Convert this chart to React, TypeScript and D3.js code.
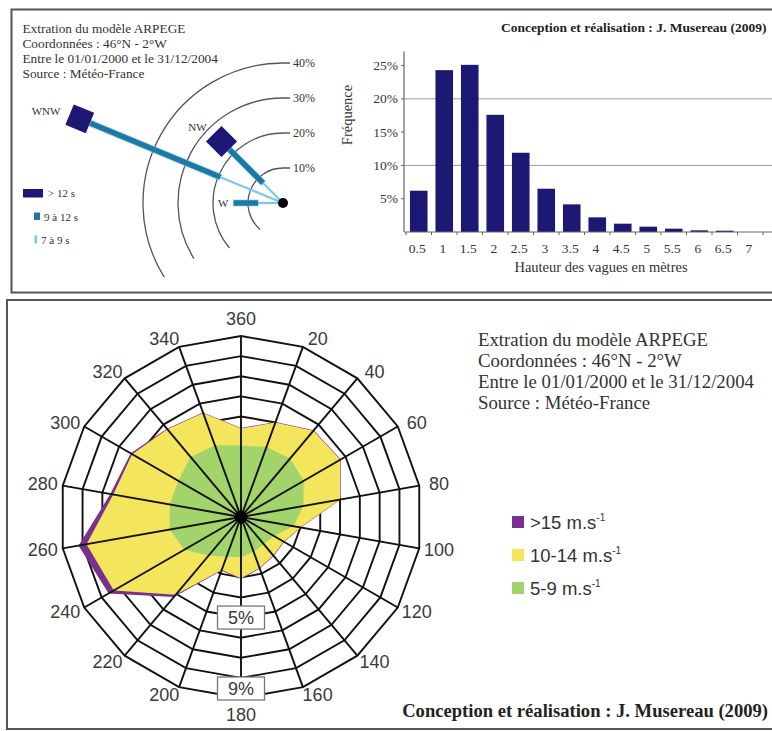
import React from 'react';
import * as d3 from 'd3';

// Fonts
const serif = '"Liberation Serif", "Times New Roman", serif';
const sans = '"Liberation Sans", Arial, sans-serif';

// --- top left: swell rose (directions and period classes, in %)
const houleDirections = ['WNW', 'NW', 'W'];
const houleAngles = [292.5, 315, 270];
const houle7a9 = [19.3, 8, 7.1];
const houle9a12 = [40.4, 13.7, 7.1];
const houlePlus12 = [6.3, 6.3, 0];
const houleCercles = [10, 20, 30, 40];
const houleFinArc = [221, 230, 238, 238]; // where each ring arc stops (compass deg)

// --- top right: wave height histogram
const hauteurs = ['0.5', '1', '1.5', '2', '2.5', '3', '3.5', '4', '4.5', '5', '5.5', '6', '6.5', '7'];
const frequences = [6.2, 24.3, 25.1, 17.6, 11.9, 6.5, 4.15, 2.2, 1.25, 0.8, 0.5, 0.25, 0.2, 0];
const freqTicks = [5, 10, 15, 20, 25];
const freqGrille = [10, 20];

// --- bottom: wind rose (frequency in % per speed class)
const ventDirections = [0, 20, 40, 60, 80, 100, 120, 140, 160, 180, 200, 220, 240, 260, 280, 300, 320, 340];
const vent5a9 = [3.55, 3.7, 3.8, 3.6, 3.15, 2.65, 1.9, 1.75, 1.85, 2.0, 2.1, 2.5, 3.25, 3.6, 3.6, 3.6, 3.9, 3.8];
const vent10a14 = [0.85, 1.3, 1.8, 2.1, 1.85, 0.35, 0.55, 0.75, 0.85, 1.05, 0.7, 2.55, 4.05, 4.2, 2.85, 2.65, 1.8, 1.7];
const ventPlus15 = [0.03, 0.03, 0.03, 0.03, 0.03, 0.03, 0.03, 0.03, 0.03, 0.03, 0.05, 0.15, 0.3, 0.4, 0.15, 0.08, 0.03, 0.03];
const ventAnneaux = [1, 2, 3, 4, 5, 6, 7, 8, 9];
const ventEtiquettes = ['5%', '9%'];

const sourceLignes = [
  'Extration du modèle ARPEGE',
  'Coordonnées : 46°N - 2°W',
  'Entre le 01/01/2000 et le 31/12/2004',
  'Source : Météo-France',
];
const credit = 'Conception et réalisation : J. Musereau (2009)';

const NAVY = '#1d1874';
const TEAL = '#1e78a6';
const LIGHT = '#7cc8e6';
const PURPLE = '#7b2f8f';
const YELLOW = '#f4e65c';
const GREEN = '#a3d36b';

const rad = (deg: number) => (deg * Math.PI) / 180;

export default function App() {
  const W = 772;
  const H = 731;

  // ---------- swell rose
  const wc = { x: 283, y: 203 };
  const wr = d3.scaleLinear().domain([0, 40]).range([0, 140]);
  const arcPath = (p: number, fin: number) => {
    const r = wr(p);
    const path = d3.path();
    path.moveTo(wc.x + 7, wc.y - r);
    path.lineTo(wc.x, wc.y - r);
    path.arc(wc.x, wc.y, r, -Math.PI / 2, rad(fin - 90), true);
    return path.toString();
  };

  // ---------- histogram
  const bx = d3.scaleBand<string>().domain(hauteurs).range([406, 763]).paddingInner(0.31).paddingOuter(0.155);
  const by = d3.scaleLinear().domain([0, 25]).range([232, 65.5]);
  const step = bx.step();
  const bandStart = 406;

  // ---------- wind rose
  const vc = { x: 241, y: 517 };
  const vr = d3.scaleLinear().domain([0, 9]).range([0, 181]);
  const rows = ventDirections.map((d, i) => ({ v5: vent5a9[i], v10: vent10a14[i], v15: ventPlus15[i] }));
  const series = d3.stack<any>().keys(['v5', 'v10', 'v15'])(rows);
  const radial = d3
    .lineRadial<number>()
    .angle((_, i) => rad(ventDirections[i]))
    .radius((v) => vr(v))
    .curve(d3.curveLinearClosed);
  const layerColors = [GREEN, YELLOW, PURPLE];
  const R = vr(9);

  const labelPos = (deg: number) => {
    const s = Math.sin(rad(deg));
    const c = Math.cos(rad(deg));
    const r0 = R + 8;
    let x = vc.x + r0 * s;
    let y = vc.y - r0 * c;
    if (Math.abs(s) > 0.01) x += 12 * Math.sign(s);
    else y -= 9 * Math.sign(c);
    return { x, y };
  };

  return (
    <svg
      width={W}
      height={H}
      style={{ position: 'absolute', left: 0, top: 0, background: '#fff' }}
    >
      <rect x={0} y={0} width={W} height={H} fill="#fff" />

      {/* panel frames */}
      <rect x={11.5} y={9.5} width={780} height={283} fill="none" stroke="#555" strokeWidth={2} />
      <rect x={7} y={300} width={790} height={429} fill="none" stroke="#555" strokeWidth={2} />

      {/* ===== top left: swell rose ===== */}
      <g fontFamily={serif} fill="#333" fontSize={13.3}>
        {sourceLignes.map((t, i) => (
          <text key={t} x={22.5} y={32.5 + i * 15}>
            {t}
          </text>
        ))}
      </g>

      {houleCercles.map((p, i) => (
        <g key={p}>
          <path d={arcPath(p, houleFinArc[i])} fill="none" stroke="#555" strokeWidth={1.3} />
          <text x={wc.x + 10} y={wc.y - wr(p) + 4} fontFamily={serif} fontSize={12} fill="#333">
            {p}%
          </text>
        </g>
      ))}

      {houleDirections.map((d, i) => {
        const r1 = wr(houle7a9[i]);
        const r2 = wr(houle7a9[i] + houle9a12[i]);
        const side = wr(houlePlus12[i]);
        const outer = r2 + side;
        const gap = side > 0 ? 10 : 5;
        const la = rad(houleAngles[i]);
        const lx = wc.x + (outer + gap) * Math.sin(la);
        const ly = wc.y - (outer + gap) * Math.cos(la);
        return (
          <g key={d}>
            <g transform={`translate(${wc.x},${wc.y}) rotate(${houleAngles[i]})`}>
              <line x1={0} y1={0} x2={0} y2={-r1} stroke={LIGHT} strokeWidth={2.2} />
              <rect x={-3} y={-r2} width={6} height={r2 - r1} fill={TEAL} stroke={LIGHT} strokeWidth={0.6} />
              {side > 0 && <rect x={-side / 2} y={-(r2 + side)} width={side} height={side} fill={NAVY} />}
            </g>
            <text
              x={lx}
              y={ly}
              textAnchor="end"
              dominantBaseline="central"
              fontFamily={serif}
              fontSize={11}
              fill="#333"
            >
              {d}
            </text>
          </g>
        );
      })}
      <circle cx={wc.x} cy={wc.y} r={5} fill="#000" />

      {/* swell legend */}
      <rect x={23} y={189} width={20} height={8.5} fill={NAVY} />
      <rect x={34} y={212.5} width={6} height={7.5} fill={TEAL} />
      <rect x={34.5} y={235.5} width={2.5} height={8} fill={LIGHT} />
      <g fontFamily={serif} fontSize={11} fill="#333">
        <text x={48} y={197}>&gt; 12 s</text>
        <text x={44} y={220.5}>9 à 12 s</text>
        <text x={41} y={243.5}>7 à 9 s</text>
      </g>

      {/* ===== top right: histogram ===== */}
      <text x={766.5} y={32} textAnchor="end" fontFamily={serif} fontWeight="bold" fontSize={13.5} fill="#222">
        {credit}
      </text>

      {freqGrille.map((g) => (
        <line key={g} x1={404} x2={772} y1={by(g)} y2={by(g)} stroke="#9a9a9a" strokeWidth={1} />
      ))}

      {hauteurs.map((h, i) => (
        <rect
          key={h}
          x={bx(h)}
          y={by(frequences[i])}
          width={bx.bandwidth()}
          height={by(0) - by(frequences[i])}
          fill={NAVY}
        />
      ))}

      <line x1={404} x2={404} y1={by(27.1)} y2={by(0)} stroke="#666" strokeWidth={1.2} />
      <line x1={404} x2={772} y1={by(0)} y2={by(0)} stroke="#666" strokeWidth={1.2} />
      {freqTicks.map((t) => (
        <g key={t}>
          <line x1={401} x2={404} y1={by(t)} y2={by(t)} stroke="#666" />
          <text x={398} y={by(t) + 4.5} textAnchor="end" fontFamily={serif} fontSize={13.5} fill="#333">
            {t}%
          </text>
        </g>
      ))}
      {d3.range(hauteurs.length + 1).map((k) => (
        <line
          key={k}
          x1={bandStart + k * step}
          x2={bandStart + k * step}
          y1={by(0)}
          y2={by(0) + 3}
          stroke="#666"
        />
      ))}
      {hauteurs.map((h) => (
        <text
          key={h}
          x={(bx(h) || 0) + bx.bandwidth() / 2 - 1.5}
          y={253}
          textAnchor="middle"
          fontFamily={serif}
          fontSize={13.5}
          fill="#333"
        >
          {h}
        </text>
      ))}
      <text x={601} y={271.5} textAnchor="middle" fontFamily={serif} fontSize={14.5} fill="#333">
        Hauteur des vagues en mètres
      </text>
      <text
        transform="translate(352,115) rotate(-90)"
        textAnchor="middle"
        fontFamily={serif}
        fontSize={14.5}
        fill="#333"
      >
        Fréquence
      </text>

      {/* ===== bottom: wind rose ===== */}
      <g transform={`translate(${vc.x},${vc.y})`}>
        {ventAnneaux.map((k) => (
          <path key={k} d={radial(ventDirections.map(() => k)) || ''} fill="none" stroke="#111" strokeWidth={1.9} />
        ))}
        {[2, 1, 0].map((k) => (
          <path key={k} d={radial(series[k].map((d) => d[1])) || ''} fill={layerColors[k]} />
        ))}
        {ventDirections.map((d) => (
          <line
            key={d}
            x1={0}
            y1={0}
            x2={R * Math.sin(rad(d))}
            y2={-R * Math.cos(rad(d))}
            stroke="#111"
            strokeWidth={1.9}
          />
        ))}
        <circle cx={0} cy={0} r={6.5} fill="#000" />
      </g>

      {ventDirections.map((d) => {
        const p = labelPos(d);
        return (
          <text
            key={d}
            x={p.x}
            y={p.y}
            textAnchor="middle"
            dominantBaseline="central"
            fontFamily={sans}
            fontSize={18}
            fill="#3a3a3a"
          >
            {d === 0 ? 360 : d}
          </text>
        );
      })}

      {ventEtiquettes.map((t, i) => {
        const cy = i === 0 ? vc.y + vr(5) : vc.y + R - 9.5;
        return (
          <g key={t}>
            <rect x={vc.x - 23.5} y={cy - 11.5} width={47} height={23} fill="#fff" stroke="#777" strokeWidth={1.3} />
            <text
              x={vc.x}
              y={cy}
              textAnchor="middle"
              dominantBaseline="central"
              fontFamily={sans}
              fontSize={18}
              fill="#3a3a3a"
            >
              {t}
            </text>
          </g>
        );
      })}

      <g fontFamily={serif} fontSize={18.8} fill="#333">
        {sourceLignes.map((t, i) => (
          <text key={t} x={478} y={346 + i * 21}>
            {t}
          </text>
        ))}
      </g>

      {/* wind legend */}
      {[
        { c: PURPLE, t: '>15 m.s' },
        { c: YELLOW, t: '10-14 m.s' },
        { c: GREEN, t: '5-9 m.s' },
      ].map((l, i) => (
        <g key={l.t}>
          <rect x={512} y={516 + i * 33} width={12} height={12} fill={l.c} />
          <text x={530} y={528.5 + i * 33} fontFamily={sans} fontSize={18.5} fill="#333">
            {l.t}
            <tspan dy={-8} fontSize={10}>
              -1
            </tspan>
          </text>
        </g>
      ))}

      <text x={768} y={717} textAnchor="end" fontFamily={serif} fontWeight="bold" fontSize={18.6} fill="#222">
        {credit}
      </text>
    </svg>
  );
}
